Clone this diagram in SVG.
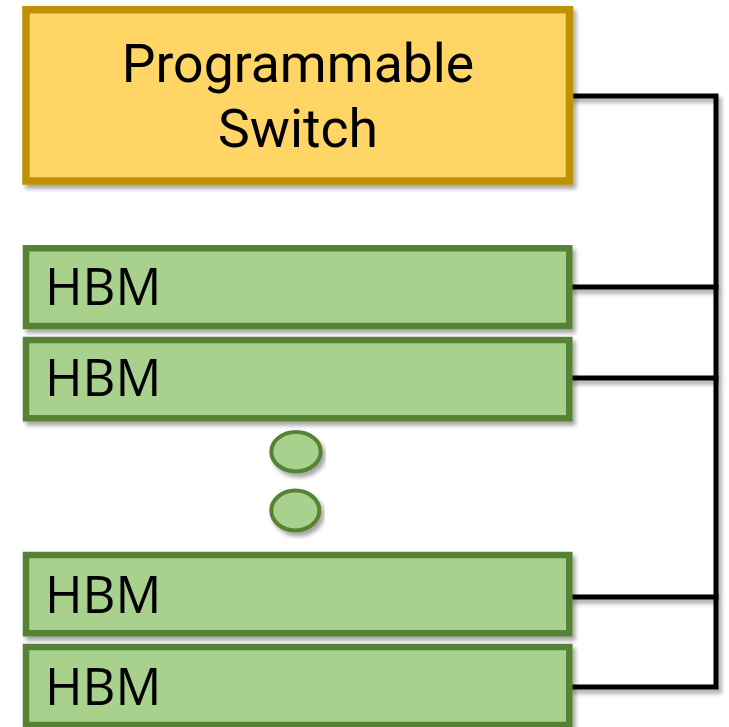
<svg xmlns="http://www.w3.org/2000/svg" width="729" height="727" viewBox="0 0 729 727">
<defs>
<filter id="sh" x="-10%" y="-10%" width="120%" height="130%">
<feDropShadow dx="3" dy="4" stdDeviation="2" flood-color="#000" flood-opacity="0.35"/>
</filter>
<style>
.sw{fill:#FFD565;stroke:#BF9000;stroke-width:7.5}
.hbm{fill:#A9D18E;stroke:#548235;stroke-width:6.5}
.dot{fill:#A9D18E;stroke:#548235;stroke-width:4}
.t1{font-family:Roboto,"Liberation Sans",sans-serif;font-size:53.5px;fill:#000;text-anchor:middle}
.t2{font-family:"Open Sans","Liberation Sans",sans-serif;font-size:51px;fill:#000}
.cn{fill:none;stroke:#000;stroke-width:5;stroke-linecap:square}
</style>
</defs>
<g id="connectors" filter="url(#sh)">
<polyline class="cn" points="572,96 716,96 716,687 572,687"/>
<line class="cn" x1="572" y1="287" x2="716" y2="287"/>
<line class="cn" x1="572" y1="378" x2="716" y2="378"/>
<line class="cn" x1="572" y1="597" x2="716" y2="597"/>
</g>
<g id="switch">
<rect class="sw" x="26" y="9.7" width="543.5" height="171.3" filter="url(#sh)"/>
<text class="t1" x="298" y="82">Programmable</text>
<text class="t1" x="298" y="147">Switch</text>
</g>
<g id="hbm1">
<rect class="hbm" x="26" y="248.3" width="543.3" height="77.7" filter="url(#sh)"/>
<text class="t2" x="45" y="305">HBM</text>
</g>
<g id="hbm2">
<rect class="hbm" x="26" y="340" width="543.3" height="78.3" filter="url(#sh)"/>
<text class="t2" x="45" y="396">HBM</text>
</g>
<g id="dots">
<ellipse class="dot" cx="296" cy="451.7" rx="24.7" ry="19.7" filter="url(#sh)"/>
<ellipse class="dot" cx="295.3" cy="510.5" rx="24" ry="20" filter="url(#sh)"/>
</g>
<g id="hbm3">
<rect class="hbm" x="26" y="555" width="543.3" height="78.3" filter="url(#sh)"/>
<text class="t2" x="45" y="613">HBM</text>
</g>
<g id="hbm4">
<rect class="hbm" x="26" y="647" width="543.3" height="78" filter="url(#sh)"/>
<text class="t2" x="45" y="705">HBM</text>
</g>
</svg>
